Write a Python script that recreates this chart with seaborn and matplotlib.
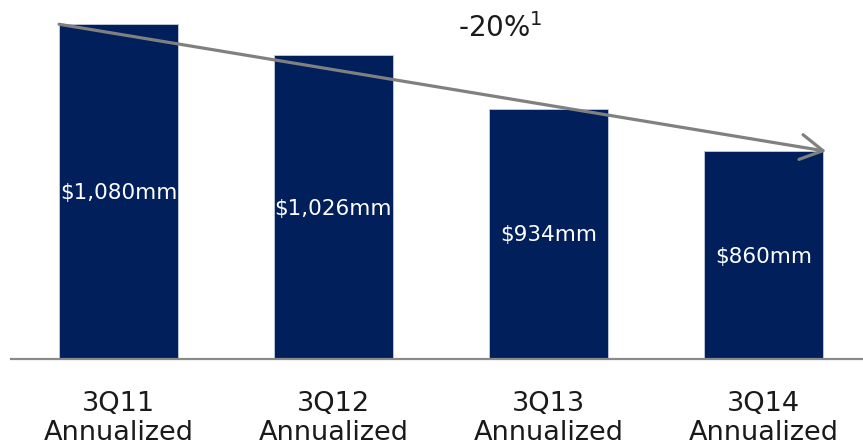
import matplotlib
matplotlib.use("Agg")
import matplotlib.pyplot as plt
import seaborn as sns
import pandas as pd

# Annualized expense run-rate by quarter
periods = ["3Q11", "3Q12", "3Q13", "3Q14"]
expenses_mm = [1080, 1026, 934, 860]
value_labels = ["$1,080mm", "$1,026mm", "$934mm", "$860mm"]
change_label = "-20%$^{1}$"

NAVY = "#001f5b"
GREY = "#808080"
BAR_WIDTH = 0.553

sns.set_theme(style="white")
plt.rcParams["font.family"] = ["DejaVu Sans"]
plt.rcParams["mathtext.fontset"] = "dejavusans"

df = pd.DataFrame({
    "period": [f"{p}\nAnnualized" for p in periods],
    "expense": expenses_mm,
})

fig = plt.figure(figsize=(8.63, 4.47), dpi=100)
ax = fig.add_axes([11 / 863, 88 / 447, 852 / 863, 359 / 447])

sns.barplot(data=df, x="period", y="expense", color=NAVY, saturation=1,
            width=BAR_WIDTH, edgecolor="#c5cbdc", linewidth=0.6, ax=ax)

ax.set_ylim(500, 1122)
ax.set_xlim(-0.5, 3.5 - 8 / 215)
ax.set_xlabel("")
ax.set_ylabel("")
ax.set_yticks([])

for side in ("top", "left", "right"):
    ax.spines[side].set_visible(False)
ax.spines["bottom"].set_color("#8a8a8a")
ax.spines["bottom"].set_linewidth(1.6)

ax.tick_params(axis="x", length=0, pad=23, labelsize=19.5, labelcolor="#1a1a1a")
for lbl in ax.get_xticklabels():
    lbl.set_linespacing(1.15)

# value labels centred in the visible part of each bar
for i, (v, lab) in enumerate(zip(expenses_mm, value_labels)):
    ax.text(i, (v + 500) / 2 - 3, lab, ha="center", va="center",
            color="white", fontsize=15.5)

# trend arrow from the first bar's top-left corner to the last bar's top
ax.annotate("", xy=(len(periods) - 1 + BAR_WIDTH / 2 + 0.015, expenses_mm[-1]),
            xytext=(-BAR_WIDTH / 2, expenses_mm[0]),
            arrowprops=dict(arrowstyle="->,head_length=0.8,head_width=0.45",
                            color=GREY, lw=2.3, mutation_scale=20,
                            shrinkA=0, shrinkB=0),
            annotation_clip=False)

fig.text(500 / 863, 1 - 28 / 447, change_label, ha="center", va="center",
         fontsize=20, color="#1a1a1a")

fig.savefig("out.png", dpi=100)
